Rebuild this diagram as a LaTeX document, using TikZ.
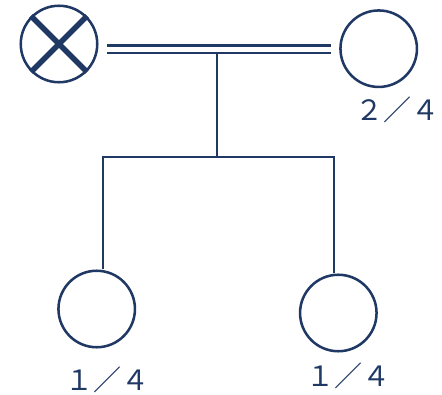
\documentclass[tikz,border=0pt]{standalone}
\usepackage{fontspec}
\newfontfamily\cjk{Noto Sans CJK JP}
\definecolor{navy}{HTML}{1F3864}
\begin{document}
\begin{tikzpicture}[x=0.75pt,y=-0.75pt,
  person/.style={circle,draw=navy,line width=1.9pt,minimum size=76.5*0.75pt,inner sep=0pt},
  conn/.style={draw=navy,line width=1.9pt},
  lbl/.style={text=navy,font=\cjk\fontsize{21pt}{24pt}\selectfont,inner sep=0pt}]
\useasboundingbox (0,0) rectangle (442,395);
\node[person] (a) at (59,44) {};
\node[person] (b) at (378.7,48.7) {};
\node[person] (c) at (96.7,309) {};
\node[person] (d) at (338.3,313) {};
\draw[navy,line width=4pt] (a.center) ++(-28,-28) -- ++(56,56);
\draw[navy,line width=4pt] (a.center) ++(28,-28) -- ++(-56,56);
\coordinate (m1) at (107,45.3);
\coordinate (m2) at (331,45.3);
\coordinate (n1) at (107,53);
\coordinate (n2) at (331,53);
\draw[conn] (m1) -- (m2);
\draw[conn] (n1) -- (n2);
\coordinate (t) at (217,53);
\coordinate (j) at (217,157);
\coordinate (jl) at (103,157);
\coordinate (jr) at (334,157);
\draw[conn] (t) -- (j);
\draw[conn,line cap=rect] (jl) -- (jr);
\draw[conn] (jl) -- (jl |- c.north);
\draw[conn] (jr) -- (jr |- d.north);
\node[lbl] (lb) at (397,110) {２／４};
\node[lbl] (lc) at (107,380) {１／４};
\node[lbl] (ld) at (348,376) {１／４};
\end{tikzpicture}
\end{document}
